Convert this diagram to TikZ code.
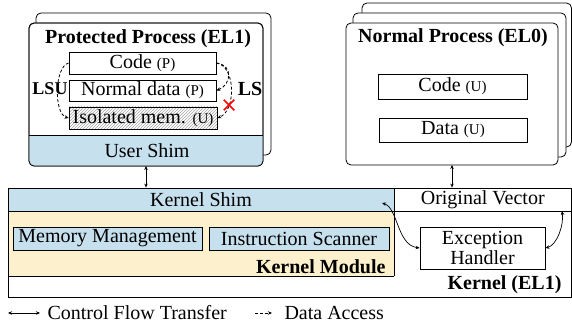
\documentclass[tikz,border=0pt]{standalone}
\usepackage{fontspec}
\setmainfont{Liberation Serif}
\usetikzlibrary{arrows.meta,patterns,shapes.misc}
\definecolor{shimblue}{RGB}{198,224,238}
\definecolor{modyellow}{RGB}{253,240,204}
\newcommand{\sm}[1]{{\fontsize{15}{16}\selectfont #1}}

\begin{document}
\begin{tikzpicture}[x=1pt,y=1pt,
  every node/.style={font=\fontsize{20}{20}\selectfont},
  procbox/.style={draw,fill=white,rounded corners=5pt,line width=0.8pt,outer sep=0pt},
  memblock/.style={draw,fill=white,inner sep=1pt,line width=0.8pt},
  kblock/.style={draw,fill=shimblue,inner sep=1pt,line width=0.8pt},
  flow/.style={{Stealth[length=4pt,width=3.5pt]}-{Stealth[length=4pt,width=3.5pt]},line width=0.7pt},
  access/.style={-{Stealth[length=4pt,width=3.5pt]},dash pattern=on 3pt off 2pt,line width=0.8pt},
  title/.style={font=\fontsize{20}{20}\selectfont\bfseries}]
\useasboundingbox (0,0) rectangle (572,329);

% protected process
\draw[procbox] (36,174) rectangle (271,316);
\node[procbox,minimum width=234,minimum height=143] (pproc) at (146,234.5) {};
\begin{scope}
\clip[rounded corners=5pt] (pproc.south west) rectangle (pproc.north east);
\fill[shimblue] (pproc.south west) rectangle (264,194);
\end{scope}
\draw[rounded corners=5pt,line width=0.8pt] (pproc.south west) rectangle (pproc.north east);
\draw[line width=0.8pt] (29,194) -- (263,194);
\node (ushim) at (147,178.5) {User Shim};
\node[title] (ptitle) at (148,290) {Protected Process (EL1)};
\node[memblock,minimum width=147,minimum height=22] (pcode) at (142.5,266) {Code \sm{(P)}};
\node[memblock,minimum width=147,minimum height=21] (pdata) at (142.5,238.5) {Normal data \sm{(P)}};
\node[memblock,minimum width=148,minimum height=22,pattern=north east lines,pattern color=gray!70] (piso) at (143,211) {Isolated mem. \sm{(U)}};

\draw[access] (pcode.west) .. controls (54,262) and (54,215) .. (piso.west);
\draw[access] (pcode.east) .. controls (236,263) and (236,218) .. (piso.east);
\draw[access] (pcode.east) .. controls (234,264) and (231,244) .. (pdata.east);
\node[draw=red,cross out,line width=1.5pt,minimum size=9pt,inner sep=0pt] (xmark) at (229,224) {};
\node[font=\fontsize{18}{18}\selectfont\bfseries] (lsu) at (50,240) {LSU};
\node[title] (ls) at (250,240) {LS};

% normal process
\draw[procbox] (362,182) rectangle (571.5,326);
\draw[procbox] (353,172) rectangle (566,316);
\node[procbox,minimum width=212,minimum height=142] (nproc) at (452,235) {};
\node[title] (ntitle) at (453,291) {Normal Process (EL0)};
\node[memblock,minimum width=149,minimum height=25] (ncode) at (452.5,242.5) {Code \sm{(U)}};
\node[memblock,minimum width=148,minimum height=24] (ndata) at (453,199) {Data \sm{(U)}};

% kernel
\fill[modyellow] (8,53) rectangle (394,118);
\node[kblock,minimum width=386,minimum height=23] (kshim) at (201,129.5) {Kernel Shim};
\node[memblock,minimum width=177.5,minimum height=23] (ovec) at (482.75,129.5) {Original Vector};
\draw[line width=0.8pt] (8,32) rectangle (571.5,141);
\draw[line width=0.8pt] (8,118) -- (571.5,118);
\draw[line width=0.8pt] (394,53) -- (394,141);
\draw[line width=0.8pt] (8,53) -- (394,53);
\node[kblock,minimum width=189,minimum height=23] (mm) at (107.5,90.5) {Memory Management};
\node[kblock,minimum width=180,minimum height=23] (is) at (299,90.5) {Instruction Scanner};
\node[title,anchor=east] (kmod) at (389,62) {Kernel Module};
\node[memblock,minimum width=125,minimum height=42,align=center] (exh) at (482.5,81) {Exception\\Handler};
\node[title,anchor=east] (kel1) at (565,44) {Kernel (EL1)};

\draw[flow] (pproc.south) -- (pproc.south |- kshim.north);
\draw[flow] (nproc.south) -- (nproc.south |- ovec.north);
\coordinate (kshimend) at (382,126);
\draw[flow] (kshimend) .. controls (398,121) and (397,84) .. (exh.west);
\coordinate (ovecend) at (562,118);
\draw[flow] (exh.east) .. controls (557,84) and (564,104) .. (ovecend);

% legend
\coordinate (lgflowa) at (8,16);
\coordinate (lgflowb) at (40,16);
\draw[flow] (lgflowa) -- (lgflowb);
\node[anchor=west] (lgflow) at (44,16) {Control Flow Transfer};
\coordinate (lgacca) at (255,16);
\coordinate (lgaccb) at (272,16);
\draw[access] (lgacca) -- (lgaccb);
\node[anchor=west] (lgacc) at (281,16) {Data Access};
\end{tikzpicture}
\end{document}
